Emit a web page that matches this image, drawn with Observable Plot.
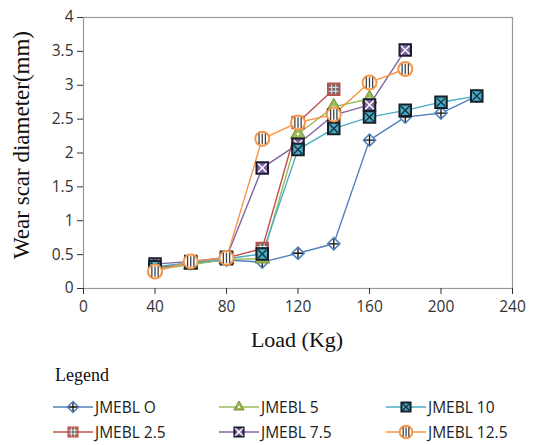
<!DOCTYPE html>
<html><head><meta charset="utf-8">
<script src="https://cdn.jsdelivr.net/npm/d3@7"></script>
<script src="https://cdn.jsdelivr.net/npm/@observablehq/plot@0.6"></script>
<style>
body{margin:0;background:#fff;}
#legend{position:relative;height:95px;font-family:"Open Sans",Calibri,sans-serif;}
#legend .title{position:absolute;left:55px;top:15px;font-family:"Liberation Serif",serif;font-size:18px;color:#111;}
#legend .item{position:absolute;display:flex;align-items:center;font-size:15.5px;color:#222;}
</style></head>
<body>
<div id="chart"></div>
<div id="legend"><div class="title">Legend</div></div>
<script>
const loads = [40, 60, 80, 100, 120, 140, 160, 180, 200, 220];
const seriesNames = ["JMEBL O", "JMEBL 2.5", "JMEBL 5", "JMEBL 7.5", "JMEBL 10", "JMEBL 12.5"];
const jmebl0   = [0.30, 0.37, 0.42, 0.39, 0.52, 0.66, 2.19, 2.53, 2.59, 2.84];
const jmebl2_5 = [0.30, 0.38, 0.45, 0.59, 2.45, 2.94, null, null, null, null];
const jmebl5   = [0.28, 0.35, 0.43, 0.44, 2.28, 2.68, 2.80, null, null, null];
const jmebl7_5 = [0.36, 0.40, 0.46, 1.78, 2.13, 2.56, 2.71, 3.52, null, null];
const jmebl10  = [0.32, 0.38, 0.44, 0.51, 2.05, 2.36, 2.53, 2.63, 2.75, 2.84];
const jmebl12_5= [0.25, 0.40, 0.45, 2.21, 2.45, 2.57, 3.04, 3.24, null, null];
const xTicks = [0, 40, 80, 120, 160, 200, 240];
const yTicks = [0, 0.5, 1, 1.5, 2, 2.5, 3, 3.5, 4];

const allValues = [jmebl0, jmebl2_5, jmebl5, jmebl7_5, jmebl10, jmebl12_5];
const data = [];
seriesNames.forEach((s, i) => {
  loads.forEach((x, j) => {
    const v = allValues[i][j];
    if (v != null) data.push({series: s, load: x, wsd: v});
  });
});

// custom symbols
const stripes = {draw(ctx, size){ const r = Math.sqrt(size/Math.PI);
  for (const dx of [-0.45, 0, 0.45]) { ctx.moveTo(dx*r, -0.75*r); ctx.lineTo(dx*r, 0.75*r); } }};
const grid = {draw(ctx, size){ const r = Math.sqrt(size/Math.PI);
  for (const d of [-0.33, 0.33]) { ctx.moveTo(d*r, -0.8*r); ctx.lineTo(d*r, 0.8*r); ctx.moveTo(-0.8*r, d*r); ctx.lineTo(0.8*r, d*r);} }};

const styles = {
  "JMEBL O":    {color:"#4f81bd", layers:[{symbol:"diamond2", r:5.5, fill:"#fff", stroke:"#4f81bd", sw:1.6},{symbol:"plus", r:3.2, fill:"none", stroke:"#111", sw:1.3}]},
  "JMEBL 2.5":  {color:"#c0504d", layers:[{symbol:"square", r:6.5, fill:"#6a6a6a", stroke:"#c0504d", sw:2},{symbol:grid, r:6, fill:"none", stroke:"#e8e8e8", sw:1}]},
  "JMEBL 5":    {color:"#9bbb59", layers:[{symbol:"triangle", r:5.5, fill:"#9bbb59", stroke:"#6e8f35", sw:1},{symbol:"square", r:1.3, fill:"#fff", stroke:"none", sw:0}]},
  "JMEBL 7.5":  {color:"#8064a2", layers:[{symbol:"square", r:6.5, fill:"#8064a2", stroke:"#1c1c30", sw:2},{symbol:"times", r:4, fill:"none", stroke:"#fff", sw:1.4}]},
  "JMEBL 10":   {color:"#4bacc6", layers:[{symbol:"square", r:6.5, fill:"#4bacc6", stroke:"#15202a", sw:2},{symbol:"times", r:4, fill:"none", stroke:"#15343f", sw:1.4}]},
  "JMEBL 12.5": {color:"#f79646", layers:[{symbol:"circle", r:7, fill:"#fff", stroke:"#f79646", sw:2},{symbol:stripes, r:7, fill:"none", stroke:"#444", sw:1.3}]}
};

const marks = [Plot.frame({stroke:"#999", strokeWidth:1.2})];
for (const s of seriesNames) {
  marks.push(Plot.line(data.filter(d => d.series === s), {x:"load", y:"wsd", stroke: styles[s].color, strokeWidth:1.4}));
}
for (const s of seriesNames) {
  const sub = data.filter(d => d.series === s);
  for (const L of styles[s].layers) {
    marks.push(Plot.dot(sub, {x:"load", y:"wsd", symbol: () => L.symbol, r: L.r, fill: L.fill, stroke: L.stroke, strokeWidth: L.sw}));
  }
}
marks.push(Plot.axisX({ticks: xTicks, tickSize:6, tickPadding:6, label:null, fontSize:15.5, fontFamily:"Open Sans, sans-serif", color:"#333"}));
marks.push(Plot.axisY({ticks: yTicks, tickFormat: d => String(d), tickSize:6, tickPadding:4, label:null, fontSize:15.5, fontFamily:"Open Sans, sans-serif", color:"#333"}));

const chart = Plot.plot({
  width: 536, height: 350,
  marginTop: 17, marginBottom: 62, marginLeft: 83, marginRight: 24,
  x: {domain:[0, 240]},
  y: {domain:[0, 4]},
  symbol: {type: "identity"},
  style: {background:"#fff", overflow:"visible"},
  marks
});
// axis titles
const svg = d3.select(chart);
svg.append("text").attr("x", 297).attr("y", 347).attr("text-anchor","middle")
  .attr("font-family","Liberation Serif, serif").attr("font-size",22).attr("fill","#111").text("Load (Kg)");
svg.append("text").attr("transform","translate(29,145) rotate(-90)").attr("text-anchor","middle")
  .attr("font-family","Liberation Serif, serif").attr("font-size",23).attr("fill","#111").text("Wear scar diameter(mm)");
document.getElementById("chart").appendChild(chart);

// legend
const legPos = [[52,46],[52,71],[218,46],[218,71],[385,46],[385,71]];
const legOrder = ["JMEBL O","JMEBL 2.5","JMEBL 5","JMEBL 7.5","JMEBL 10","JMEBL 12.5"];
const leg = document.getElementById("legend");
legOrder.forEach((s, i) => {
  const it = document.createElement("div");
  it.className = "item";
  it.style.left = legPos[i][0] + "px"; it.style.top = legPos[i][1] + "px";
  const sv = d3.create("svg").attr("width", 42).attr("height", 18);
  sv.append("line").attr("x1",1).attr("x2",41).attr("y1",9).attr("y2",9).attr("stroke",styles[s].color).attr("stroke-width",1.4);
  for (const L of styles[s].layers) {
    const sym = typeof L.symbol === "string" ? {diamond2:d3.symbolDiamond2, plus:d3.symbolPlus, square:d3.symbolSquare2, triangle:d3.symbolTriangle2, times:d3.symbolTimes, circle:d3.symbolCircle}[L.symbol] : L.symbol;
    const size = Math.PI * L.r * L.r * 0.8;
    sv.append("path").attr("transform","translate(21,9)").attr("d", d3.symbol(sym, size)())
      .attr("fill", L.fill).attr("stroke", L.stroke).attr("stroke-width", L.sw);
  }
  it.appendChild(sv.node());
  const tx = document.createElement("span"); tx.textContent = s; tx.style.marginLeft = "1px";
  it.appendChild(tx);
  leg.appendChild(it);
});
</script>
</body></html>
